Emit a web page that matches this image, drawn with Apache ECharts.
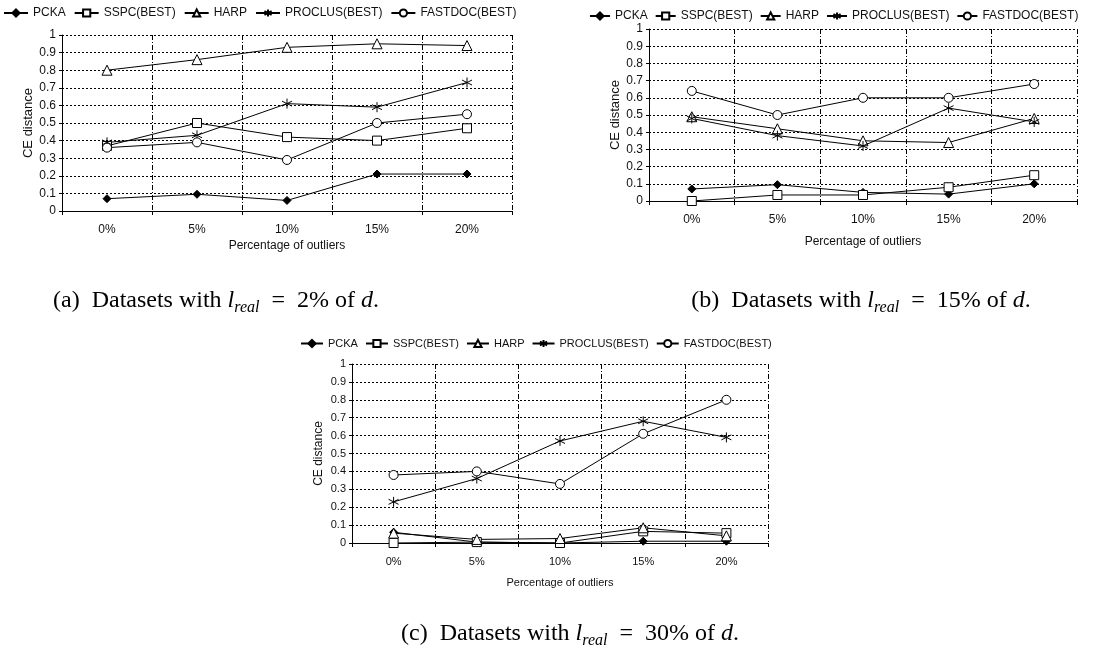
<!DOCTYPE html>
<html>
<head>
<meta charset="utf-8">
<script src="https://cdn.jsdelivr.net/npm/echarts@6/dist/echarts.min.js"></script>
<style>html,body{margin:0;padding:0;background:#fff;}#c{width:1097px;height:660px;}</style>
</head>
<body>
<div id="c"></div>
<script>
const categories = ['0%', '5%', '10%', '15%', '20%'];
const seriesNames = ['PCKA', 'SSPC(BEST)', 'HARP', 'PROCLUS(BEST)', 'FASTDOC(BEST)'];

// (a) l_real = 2% of d
const pckaA    = [0.07, 0.095, 0.06, 0.21, 0.21];
const sspcA    = [0.37, 0.50, 0.42, 0.40, 0.47];
const harpA    = [0.80, 0.86, 0.93, 0.95, 0.94];
const proclusA = [0.39, 0.43, 0.61, 0.59, 0.73];
const fastdocA = [0.36, 0.39, 0.29, 0.50, 0.55];

// (b) l_real = 15% of d
const pckaB    = [0.07, 0.095, 0.05, 0.04, 0.10];
const sspcB    = [0.00, 0.035, 0.035, 0.08, 0.15];
const harpB    = [0.49, 0.42, 0.35, 0.34, 0.48];
const proclusB = [0.48, 0.38, 0.32, 0.54, 0.46];
const fastdocB = [0.64, 0.50, 0.60, 0.60, 0.68];

// (c) l_real = 30% of d
const pckaC    = [0.06, 0.005, 0.0, 0.01, 0.01];
const sspcC    = [0.0, 0.005, 0.0, 0.065, 0.055];
const harpC    = [0.055, 0.02, 0.025, 0.085, 0.04];
const proclusC = [0.23, 0.36, 0.57, 0.68, 0.59];
const fastdocC = [0.38, 0.40, 0.33, 0.61, 0.80];

const yMin = 0, yMax = 1, yInterval = 0.1;
const xAxisName = 'Percentage of outliers';
const yAxisName = 'CE distance';

const panels = [
  { data: [pckaA, sspcA, harpA, proclusA, fastdocA], caption: '(a)', pct: '2%' },
  { data: [pckaB, sspcB, harpB, proclusB, fastdocB], caption: '(b)', pct: '15%' },
  { data: [pckaC, sspcC, harpC, proclusC, fastdocC], caption: '(c)', pct: '30%' }
];

const SANS = 'Liberation Sans, Arial, sans-serif';
const SERIF = 'Liberation Serif, Times New Roman, serif';
const starPath = 'path://M5,0L5,10M0.67,2.5L9.33,7.5M0.67,7.5L9.33,2.5';

const layout = [
  { grid: { left: 62, top: 35, width: 450, height: 176 }, legend: { left: 3, top: 7, itemWidth: 24, itemGap: 8 }, font: 12, labelGap: 13, nameGap: 29, yNameGap: 26, caption: { x: 216, y: 301 } },
  { grid: { left: 649, top: 29, width: 428, height: 172 }, legend: { left: 589, top: 10, itemWidth: 20, itemGap: 7 }, font: 12, labelGap: 13, nameGap: 35, yNameGap: 26, caption: { x: 861, y: 301 } },
  { grid: { left: 352, top: 364, width: 416, height: 179 }, legend: { left: 300, top: 338, itemWidth: 22, itemGap: 7 }, font: 11, labelGap: 13, nameGap: 34, yNameGap: 27, caption: { x: 570, y: 634 } }
];

const symbols = [
  { symbol: 'diamond', symbolSize: 8, itemStyle: { color: '#000', borderColor: '#000', borderWidth: 1 } },
  { symbol: 'rect', symbolSize: 9, itemStyle: { color: '#fff', borderColor: '#000', borderWidth: 1 } },
  { symbol: 'triangle', symbolSize: 10, itemStyle: { color: '#fff', borderColor: '#000', borderWidth: 1 } },
  { symbol: starPath, symbolSize: 10, itemStyle: { color: 'rgba(0,0,0,0)', borderColor: '#000', borderWidth: 1 } },
  { symbol: 'circle', symbolSize: 9, itemStyle: { color: '#fff', borderColor: '#000', borderWidth: 1 } }
];

const grids = [], xAxes = [], yAxes = [], legends = [], series = [], graphics = [];

panels.forEach((p, i) => {
  const L = layout[i];
  grids.push(Object.assign({ containLabel: false }, L.grid));
  xAxes.push({
    type: 'category', gridIndex: i, data: categories, boundaryGap: true,
    name: xAxisName, nameLocation: 'middle', nameGap: L.nameGap,
    nameTextStyle: { fontFamily: SANS, fontSize: L.font, color: '#111' },
    axisLine: { lineStyle: { color: '#000', width: 1 } },
    axisTick: { show: true, length: 4, lineStyle: { color: '#000' } },
    axisLabel: { fontFamily: SANS, fontSize: L.font, color: '#111', margin: L.labelGap },
    splitLine: { show: true, lineStyle: { color: '#000', width: 1, type: [5, 2, 1, 2] } }
  });
  yAxes.push({
    type: 'value', gridIndex: i, min: yMin, max: yMax, interval: yInterval,
    name: yAxisName, nameLocation: 'middle', nameGap: L.yNameGap,
    nameTextStyle: { fontFamily: SANS, fontSize: L.font + 1, color: '#111' },
    axisLine: { show: true, lineStyle: { color: '#000', width: 1 } },
    axisTick: { show: true, length: 3, lineStyle: { color: '#000' } },
    axisLabel: { fontFamily: SANS, fontSize: L.font, color: '#111', margin: 6 },
    splitLine: { show: true, lineStyle: { color: '#000', width: 1, type: [2, 2] } }
  });
  legends.push({
    left: L.legend.left, top: L.legend.top, orient: 'horizontal', padding: 0,
    width: 1097 - L.legend.left,
    data: seriesNames, itemWidth: L.legend.itemWidth, itemHeight: 9, itemGap: L.legend.itemGap,
    textStyle: { fontFamily: SANS, fontSize: L.font, color: '#111' },
    selectedMode: false
  });
  p.data.forEach((vals, k) => {
    series.push(Object.assign({
      name: seriesNames[k], type: 'line', xAxisIndex: i, yAxisIndex: i,
      data: vals, showSymbol: true, animation: false,
      lineStyle: { color: '#000', width: 1 },
      color: '#000',
      z: 3
    }, symbols[k]));
  });
  graphics.push({
    type: 'text', x: L.caption.x, y: L.caption.y,
    style: {
      text: '{n|' + p.caption + '  Datasets with }{i|l}{s|real}{n|  =  ' + p.pct + ' of }{i|d}{n|.}',
      align: 'center', verticalAlign: 'middle',
      fill: '#000',
      rich: {
        n: { fontFamily: SERIF, fontSize: 24, lineHeight: 30, verticalAlign: 'middle', fill: '#000' },
        i: { fontFamily: SERIF, fontSize: 24, fontStyle: 'italic', lineHeight: 30, verticalAlign: 'middle', fill: '#000' },
        s: { fontFamily: SERIF, fontSize: 16, fontStyle: 'italic', lineHeight: 14, verticalAlign: 'bottom', fill: '#000' }
      }
    }
  });
});

const chart = echarts.init(document.getElementById('c'), null, { renderer: 'canvas' });
chart.setOption({
  backgroundColor: '#fff',
  animation: false,
  grid: grids,
  xAxis: xAxes,
  yAxis: yAxes,
  legend: legends,
  series: series,
  graphic: graphics
});
</script>
</body>
</html>
